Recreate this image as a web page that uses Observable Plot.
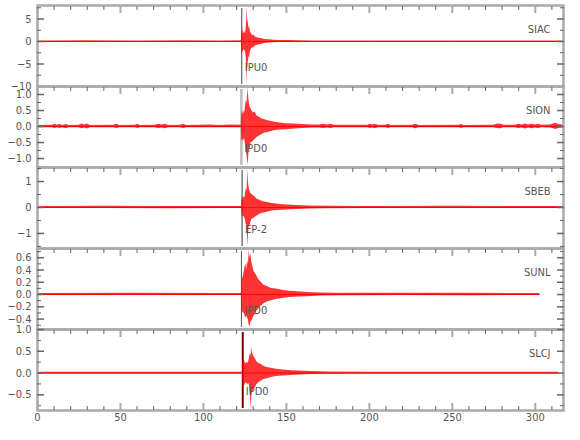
<!DOCTYPE html>
<html><head><meta charset="utf-8">
<script src="https://cdn.jsdelivr.net/npm/d3@7"></script>
<script src="https://cdn.jsdelivr.net/npm/@observablehq/plot@0.6"></script>
<style>
body{margin:0;background:#fff;}
#chart{position:relative;width:580px;height:440px;font-family:"DejaVu Sans",sans-serif;font-stretch:condensed;}
#chart svg{position:absolute;left:0;overflow:visible;}
#chart svg text{font-stretch:condensed;}
</style></head><body><div id="chart"></div>
<script>
// ---- data ----
const stations = ["SIAC", "SION", "SBEB", "SUNL", "SLCJ"];
const pickLabels = ["IPU0", "IPD0", "EP-2", "IPD0", "IPD0"];
const pickTimes = [123.1, 122.9, 123.3, 122.9, 123.7];
const yDomains = [[-10, 8], [-1.28, 1.25], [-1.58, 1.54], [-0.57, 0.75], [-0.86, 1.0]];
const yMajor = [[-10, -5, 0, 5], [-1, -0.5, 0, 0.5, 1], [-1, 0, 1], [-0.4, -0.2, 0, 0.2, 0.4, 0.6], [-0.5, 0, 0.5, 1]];
const yMinor = [[-7.5, -2.5, 2.5, 7.5], [-1.25, -0.75, -0.25, 0.25, 0.75], [-1.5, -0.5, 0.5, 1.5], [-0.5, -0.3, -0.1, 0.1, 0.3, 0.5, 0.7], [-0.75, -0.25, 0.25, 0.75]];
const yFormats = ["d", ".1f", "d", ".1f", ".1f"];
const xMajor = [0, 50, 100, 150, 200, 250, 300];
const xMinor = [10, 20, 30, 40, 60, 70, 80, 90, 110, 120, 130, 140, 160, 170, 180, 190, 210, 220, 230, 240, 260, 270, 280, 290, 310];

// envelopes: [time s, upper, lower]
const siac = [[0,.12,-.12],[30,.15,-.15],[60,.12,-.12],[90,.15,-.15],[110,.12,-.12],[122.9,.15,-.15],
[123.2,3.1,-3.0],[123.6,1.7,-2.1],[124.0,2.7,-2.5],[124.4,1.6,-1.7],[124.9,2.3,-2.0],[125.4,1.8,-2.3],
[125.8,3.0,-3.6],[126.1,4.6,-6.2],[126.3,7.6,-9.4],[126.6,5.0,-6.3],[127.0,4.3,-4.7],[127.4,2.8,-3.3],
[127.8,3.5,-3.8],[128.3,2.1,-2.2],[128.9,1.8,-1.7],[129.6,1.3,-1.4],[130.4,1.5,-1.4],[131.3,1.0,-1.0],
[132.4,.85,-.9],[133.7,.7,-.7],[135.2,.6,-.6],[137,.45,-.45],[139.5,.38,-.36],[142.5,.3,-.3],[146,.24,-.24],
[151,.2,-.2],[158,.16,-.16],[168,.13,-.13],[200,.12,-.12],[250,.12,-.12],[317,.12,-.12]];
const sion = [[0,.035,-.035],[9,.04,-.035],[10.5,.07,-.06],[12,.04,-.04],[13.5,.07,-.06],[15,.035,-.035],[17.5,.06,-.07],
[19,.035,-.035],[25,.04,-.04],[27,.08,-.07],[28.5,.05,-.05],[30,.08,-.08],[32,.035,-.035],[46,.04,-.035],[48,.07,-.06],
[49.5,.035,-.035],[59,.04,-.04],[60.5,.07,-.06],[62,.035,-.035],[71,.04,-.04],[73,.07,-.06],[75,.05,-.05],[77,.07,-.07],
[79,.035,-.035],[86,.04,-.04],[88,.07,-.06],[90,.035,-.035],[104,.045,-.04],[110,.035,-.04],[116,.045,-.04],
[122.9,.04,-.04],
[123.2,.48,-.45],[123.7,.35,-.4],[124.2,.5,-.47],[124.8,.4,-.36],[125.3,.6,-.55],[125.8,.83,-.8],[126.3,.7,-.9],
[126.8,1.2,-1.22],[127.2,.95,-1.0],[127.6,.75,-.7],[128.1,.62,-.68],[128.7,.55,-.5],[129.4,.48,-.5],[130.2,.42,-.45],
[131.2,.45,-.4],[132.3,.33,-.34],[133.5,.3,-.3],[135,.24,-.26],[137,.21,-.2],[139.5,.17,-.18],[142.5,.14,-.13],
[146,.11,-.11],[150,.09,-.1],[155,.08,-.08],[160,.06,-.06],[165,.05,-.05],
[170,.05,-.045],[172,.07,-.06],[175,.05,-.05],[177,.07,-.06],[179,.04,-.04],[190,.04,-.04],[199,.04,-.04],
[200.5,.07,-.06],[202,.05,-.05],[203.5,.07,-.07],[205.5,.04,-.04],[210,.04,-.04],[211.5,.07,-.06],[213,.035,-.035],
[226,.04,-.04],[228,.07,-.07],[230,.035,-.035],[254,.04,-.04],[255.5,.06,-.06],[257,.035,-.035],[275,.04,-.04],
[277,.07,-.06],[279,.08,-.07],[281,.04,-.04],[288,.04,-.04],[290,.07,-.06],[292,.05,-.05],[294,.08,-.08],[296,.05,-.05],
[298,.07,-.07],[300,.05,-.05],[302,.07,-.06],[304,.04,-.04],[309,.05,-.05],[311,.08,-.07],[312.5,.1,-.09],[314,.06,-.06],[317,.05,-.05]];
const sbeb = [[0,.04,-.04],[40,.05,-.04],[80,.04,-.05],[110,.04,-.04],[123.0,.04,-.04],
[123.4,.45,-.38],[123.9,.3,-.32],[124.4,.42,-.35],[124.9,.35,-.4],[125.4,.55,-.5],[125.9,.77,-.7],[126.3,.6,-.65],
[126.7,1.44,-1.47],[127.1,1.0,-1.1],[127.5,.78,-.75],[127.9,.65,-.72],[128.5,.55,-.6],[129.2,.5,-.45],
[130.2,.45,-.42],[131.2,.4,-.38],[132.4,.32,-.33],[134,.28,-.26],[136,.22,-.22],[138.5,.19,-.18],[141.5,.15,-.14],
[145,.12,-.12],[150,.1,-.1],[156,.08,-.08],[164,.06,-.06],[175,.05,-.05],[200,.04,-.04],[250,.045,-.04],[317,.04,-.04]];
const sunl = [[0,.015,-.015],[60,.02,-.015],[110,.015,-.015],[122.9,.015,-.015],
[123.3,.37,-.34],[123.8,.25,-.28],[124.3,.33,-.3],[124.9,.42,-.32],[125.5,.5,-.39],[126.1,.4,-.35],[126.6,.55,-.38],
[127.1,.48,-.42],[127.6,.72,-.5],[128.1,.6,-.53],[128.6,.66,-.45],[129.1,.53,-.44],[129.7,.47,-.4],[130.4,.38,-.36],
[131.2,.35,-.33],[132.2,.3,-.27],[133.4,.24,-.23],[134.8,.2,-.19],[136.5,.15,-.15],[138.5,.13,-.12],[141,.1,-.1],
[144,.09,-.08],[147.5,.07,-.065],[152,.055,-.05],[157,.045,-.04],[163,.035,-.035],[170,.025,-.025],[180,.02,-.02],
[220,.02,-.015],[260,.02,-.02],[302.5,.015,-.015]];
const slcj = [[0,.02,-.02],[60,.02,-.02],[110,.02,-.02],[123.6,.02,-.02],
[123.9,.3,-.33],[124.4,.22,-.25],[124.9,.28,-.3],[125.5,.2,-.22],[126.1,.25,-.24],[126.7,.22,-.26],[127.3,.26,-.24],
[127.8,.35,-.3],[128.3,.45,-.5],[128.7,.38,-.83],[129.1,.6,-.55],[129.5,.45,-.45],[130,.42,-.4],[130.6,.36,-.36],
[131.3,.33,-.34],[132.2,.26,-.27],[133.3,.22,-.22],[134.7,.2,-.19],[136.5,.15,-.15],[138.5,.13,-.13],[141,.11,-.1],
[144,.09,-.08],[148,.07,-.07],[153,.055,-.055],[158,.045,-.045],[165,.035,-.035],[175,.025,-.025],[200,.02,-.02],
[260,.02,-.02],[314,.02,-.02]];
const traces = [siac, sion, sbeb, sunl, slcj];

// ---- styles ----
const pickStroke = ["#444", "#bbb", "#333", "#555", "#7a0000"];
const pickWidth = [1, 2.5, 1, 1, 2];
const frameColor = "#aaa", tickColor = "#666", textColor = "#555";
const panelTop = 5, panelH = 81, bottomExtra = 26;
const fontFam = "'DejaVu Sans',sans-serif";

const chart = document.getElementById("chart");
stations.forEach((name, i) => {
  const last = i === stations.length - 1;
  const data = traces[i];
  const marks = [
    Plot.ruleX([pickTimes[i]], {x: d => d, stroke: pickStroke[i], strokeWidth: pickWidth[i], insetTop: 3, insetBottom: 2}),
    Plot.areaY(data, {x: d => d[0], y1: d => d[2], y2: d => d[1], fill: "#ff0000", fillOpacity: 0.8}),
    Plot.lineY(data, {x: d => d[0], y: () => 0, stroke: "#ff0000", strokeWidth: 1}),
    Plot.frame({stroke: frameColor, strokeWidth: 2.5}),
    Plot.axisX({anchor: "top", ticks: xMinor, tickSize: -4, fill: "none", stroke: tickColor, label: null}),
    Plot.axisX({anchor: "top", ticks: xMajor, tickSize: -7, fill: "none", stroke: frameColor, strokeWidth: 2, label: null}),
    Plot.axisY({anchor: "left", ticks: yMinor[i], tickSize: -4, fill: "none", stroke: tickColor, label: null}),
    Plot.axisY({anchor: "left", ticks: yMajor[i], tickSize: -7, fill: "none", stroke: tickColor, strokeWidth: 1.5, label: null}),
    Plot.axisY({anchor: "right", ticks: yMinor[i], tickSize: -4, fill: "none", stroke: tickColor, label: null}),
    Plot.axisY({anchor: "right", ticks: yMajor[i], tickSize: -7, fill: "none", stroke: tickColor, strokeWidth: 1.5, label: null}),
    Plot.axisY({anchor: "left", ticks: yMajor[i], tickSize: 0, tickPadding: 6, stroke: "none", fill: textColor,
      tickFormat: d3.format(yFormats[i]), fontSize: 11, label: null}),
    Plot.text([name], {frameAnchor: "top-right", text: d => d, dx: -13, dy: 20, textAnchor: "end", fontSize: 11, fill: textColor}),
    Plot.text([pickLabels[i]], {x: pickTimes[i], frameAnchor: "bottom", text: d => d, dx: 3, dy: -16, textAnchor: "start", fontSize: 11, fill: textColor})
  ];
  if (last) {
    marks.push(
      Plot.axisX({anchor: "bottom", ticks: xMinor, tickSize: -4, fill: "none", stroke: tickColor, label: null}),
      Plot.axisX({anchor: "bottom", ticks: xMajor, tickSize: -7, fill: "none", stroke: frameColor, strokeWidth: 2, label: null}),
      Plot.axisX({anchor: "bottom", ticks: xMajor, tickSize: 0, tickPadding: 3, stroke: "none", fill: textColor, fontSize: 11, label: null})
    );
  }
  const svg = Plot.plot({
    width: 580,
    height: panelH + (last ? bottomExtra : 0),
    marginLeft: 37, marginRight: 17, marginTop: 0, marginBottom: last ? bottomExtra : 0,
    style: {fontFamily: fontFam, fontStretch: "condensed", background: "transparent", overflow: "visible"},
    x: {domain: [0, 317], axis: null},
    y: {domain: yDomains[i], axis: null},
    marks
  });
  svg.style.top = (panelTop + i * panelH) + "px";
  chart.appendChild(svg);
});
</script></body></html>
